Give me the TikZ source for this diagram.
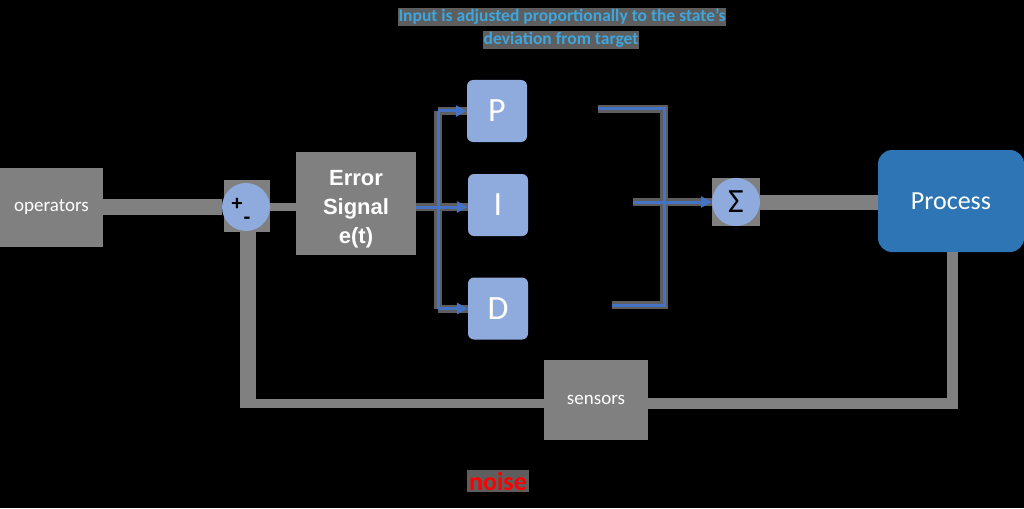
\documentclass[tikz,border=0pt]{standalone}
\usepackage{fontspec}
\setmainfont{Carlito}
\newfontfamily\arialf{Liberation Sans}
\usetikzlibrary{arrows.meta}
\definecolor{boxgray}{HTML}{808080}
\definecolor{pale}{HTML}{8FAADC}
\definecolor{procblue}{HTML}{2E75B6}
\definecolor{lineblue}{HTML}{4472C4}
\definecolor{topcyan}{HTML}{3EA6DE}
\definecolor{shade}{HTML}{5E5E5E}
\tikzset{
  graybox/.style={rectangle, fill=boxgray, text=white, inner sep=0pt},
  pidbox/.style={rectangle, rounded corners=6pt, fill=pale, text=white, inner sep=0pt,
    minimum width=60pt, minimum height=62pt, font=\fontsize{34}{36}\selectfont},
  sumcirc/.style={circle, fill=pale, inner sep=0pt, minimum size=48pt},
  gline/.style={draw=boxgray},
  bl/.style={draw=lineblue, line width=3pt},
  blshadow/.style={draw=shade, line width=8pt, shift={(-3,-3)}},
  tri/.style={-{Triangle[length=11pt,width=11pt]}}
}
\begin{document}
\begin{tikzpicture}[x=1pt,y=-1pt]
\fill[black] (0,0) rectangle (1024,508);
\useasboundingbox (0,0) rectangle (1024,508);

% top note
\node[fill=shade, text=topcyan, inner sep=1pt, font=\bfseries\fontsize{17.5}{19}\selectfont] (note1) at (562,17) {Input is adjusted proportionally to the state's};
\node[fill=shade, text=topcyan, inner sep=1pt, font=\bfseries\fontsize{17.5}{19}\selectfont] (note2) at (561,40) {deviation from target};

% boxes
\node[graybox, minimum width=103pt, minimum height=79pt, font=\fontsize{19}{21}\selectfont] (op) at (51.5,207.5) {operators};
\fill[boxgray] (224,180) rectangle (270,232);
\node[sumcirc] (sum) at (246,207) {};
\node[font=\bfseries\fontsize{22}{22}\selectfont, inner sep=0pt] (plus) at (237,204) {+};
\node[font=\bfseries\fontsize{22}{22}\selectfont, inner sep=0pt] (minus) at (247,221) {-};
\node[graybox, minimum width=120pt, minimum height=103pt] (err) at (356,203.5) {};
\node[text=white, align=center, inner sep=0pt,
  font=\arialf\bfseries\fontsize{22}{29}\selectfont] (errtxt) at (356,209) {Error\\Signal\\e(t)};

\node[pidbox] (P) at (497,111) {P};
\node[pidbox] (I) at (498,205) {I};
\node[pidbox] (D) at (498,308.5) {D};

\fill[boxgray] (712,178) rectangle (760,226);
\node[sumcirc, font=\fontsize{34}{34}\selectfont] (sig) at (736,202) {Σ};
\node[rectangle, rounded corners=14pt, fill=procblue, text=white, inner sep=0pt,
  minimum width=146pt, minimum height=102pt, font=\fontsize{26}{28}\selectfont] (proc) at (951,201) {Process};
\node[graybox, minimum width=104pt, minimum height=80pt, font=\fontsize{19}{21}\selectfont] (sen) at (596,400) {sensors};

% gray connectors
\coordinate (opr) at (103,207);
\draw[gline, line width=16pt] (opr) -- (sum.west);
\draw[gline, line width=8pt] (sum.east) -- (err.west |- sum.east);
\draw[gline, line width=15pt] (sig.east) -- (proc.west |- sig.east);
\coordinate (pb) at (952,252);
\coordinate (fb) at (248,403);
\draw[gline, line width=11pt] (pb) |- (sen.east |- fb);
\draw[gline, line width=9pt] (sen.west |- fb) -- (fb);
\draw[gline, line width=16pt] ([yshift=-4.5pt]fb) -- (sum.south -| fb);

% blue branching
\coordinate (br) at (438,207);
\coordinate (pr) at (598,109);
\coordinate (dr) at (612,305);
\coordinate (ir) at (633,202);
\coordinate (vx) at (664,202);
\draw[blshadow] (br |- P.west) -- (br |- D.west);
\draw[blshadow] (br |- P.west) -- (P.west);
\draw[blshadow] (br |- D.west) -- (D.west);
\draw[blshadow] (err.east |- br) -- (I.west |- br);
\draw[blshadow] (pr) -| (vx) |- (dr);
\draw[blshadow] (ir) -- (sig.west);
\draw[bl, tri] (err.east |- br) -- (I.west |- br);
\draw[bl] (br |- P.west) -- (br |- D.west);
\draw[bl, tri] (br |- P.west) -- (P.west);
\draw[bl, tri] (br |- D.west) -- (D.west);
\draw[bl] (pr) -| (vx) |- (dr);
\draw[bl, tri] (ir) -- (sig.west);

% noise
\node[fill=shade, text=red, inner sep=2pt, font=\bfseries\fontsize{26}{28}\selectfont] (noise) at (498,481) {noise};
\end{tikzpicture}
\end{document}
